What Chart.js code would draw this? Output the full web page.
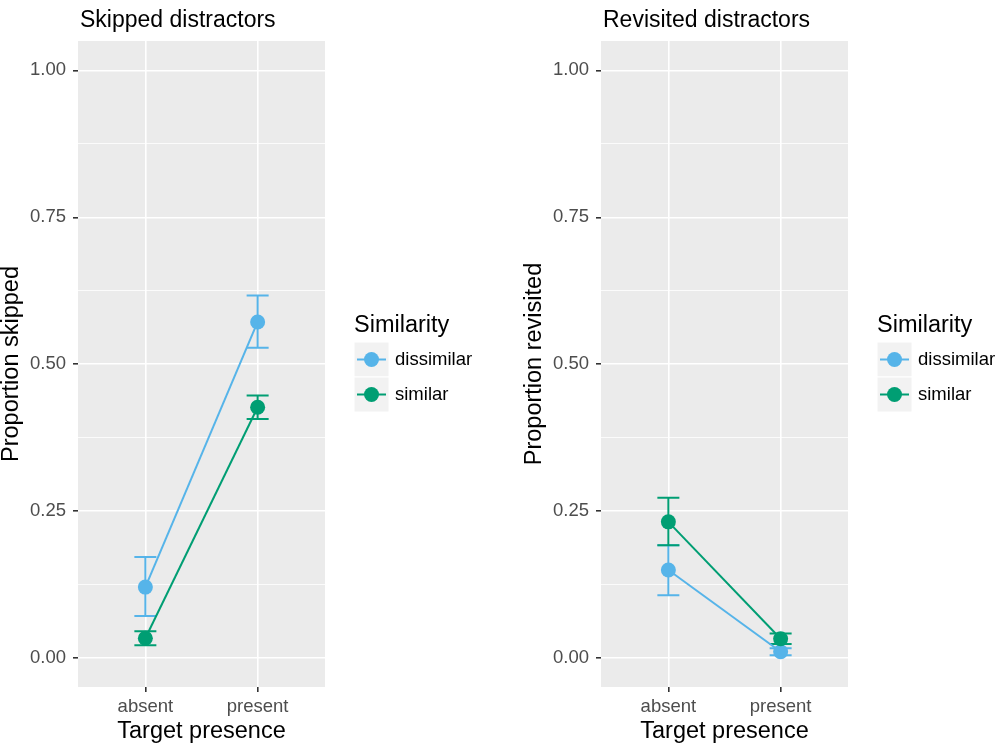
<!DOCTYPE html>
<html>
<head>
<meta charset="utf-8">
<script src="https://cdn.jsdelivr.net/npm/chart.js@4"></script>
<style>
  html, body { margin: 0; padding: 0; background: #fff; }
  #wrap { position: relative; width: 1000px; height: 751px; overflow: hidden; }
  .panel { position: absolute; top: 0; width: 523px; height: 751px; }
</style>
</head>
<body>
<div id="wrap">
  <div class="panel" style="left:0"><canvas id="skipped"></canvas></div>
  <div class="panel" style="left:523px"><canvas id="revisited"></canvas></div>
</div>
<script>
// data
var categories = ['absent', 'present'];
var groups = ['dissimilar', 'similar'];
var yTicks = [0, 0.25, 0.5, 0.75, 1];

var skippedDissimilar = [0.121, 0.572];
var skippedDissimilarLo = [0.072, 0.528];
var skippedDissimilarHi = [0.172, 0.617];
var skippedSimilar = [0.034, 0.427];
var skippedSimilarLo = [0.022, 0.407];
var skippedSimilarHi = [0.046, 0.447];

var revisitedDissimilar = [0.150, 0.011];
var revisitedDissimilarLo = [0.107, 0.005];
var revisitedDissimilarHi = [0.192, 0.017];
var revisitedSimilar = [0.232, 0.033];
var revisitedSimilarLo = [0.192, 0.024];
var revisitedSimilarHi = [0.273, 0.042];

var colors = ['#56B4E9', '#009E73'];
var FONT = '"Liberation Sans", Arial, sans-serif';

function points(vals) {
    return vals.map(function (v, i) { return { x: i + 1, y: v }; });
}

// grey panel background
var panelBg = {
    id: 'panelBg',
    beforeDraw: function (chart) {
        var a = chart.chartArea, ctx = chart.ctx;
        ctx.save();
        ctx.fillStyle = '#EBEBEB';
        ctx.fillRect(a.left, a.top, a.right - a.left, a.bottom - a.top);
        ctx.restore();
    }
};

// error bars from lo/hi arrays kept on each dataset
var errorBars = {
    id: 'errorBars',
    beforeDatasetsDraw: function (chart) {
        var ctx = chart.ctx, xs = chart.scales.x, ys = chart.scales.y;
        var sets = chart.data.datasets.slice().sort(function (a, b) { return b.order - a.order; });
        sets.forEach(function (ds) {
            ctx.save();
            ctx.strokeStyle = ds.borderColor;
            ctx.lineWidth = 2;
            ds.lo.forEach(function (lo, i) {
                var px = xs.getPixelForValue(i + 1);
                var y1 = ys.getPixelForValue(lo), y2 = ys.getPixelForValue(ds.hi[i]);
                ctx.beginPath();
                ctx.moveTo(px, y1); ctx.lineTo(px, y2);
                ctx.moveTo(px - 11, y1); ctx.lineTo(px + 11, y1);
                ctx.moveTo(px - 11, y2); ctx.lineTo(px + 11, y2);
                ctx.stroke();
            });
            ctx.restore();
        });
    }
};

// title + legend in ggplot style
var decorations = {
    id: 'decorations',
    afterDraw: function (chart, args, opts) {
        var ctx = chart.ctx, a = chart.chartArea;
        ctx.save();
        ctx.fillStyle = '#000';
        ctx.textBaseline = 'alphabetic';
        ctx.font = '23px ' + FONT;
        ctx.fillText(opts.title, a.left + 2, 27);

        var x0 = a.right + 29;
        ctx.font = '23.5px ' + FONT;
        ctx.fillText('Similarity', x0, 332);
        var top = 342, size = 35;
        chart.data.datasets.forEach(function (ds, i) {
            var y = top + i * size;
            ctx.fillStyle = '#F2F2F2';
            ctx.fillRect(x0, y, size, size);
            ctx.strokeStyle = '#fff';
            ctx.lineWidth = 1;
            ctx.strokeRect(x0, y, size, size);
            var cy = y + size / 2;
            ctx.strokeStyle = ds.borderColor;
            ctx.lineWidth = 2;
            ctx.beginPath();
            ctx.moveTo(x0 + 3, cy); ctx.lineTo(x0 + 32, cy);
            ctx.stroke();
            ctx.fillStyle = ds.borderColor;
            ctx.beginPath();
            ctx.arc(x0 + size / 2, cy, 7.5, 0, Math.PI * 2);
            ctx.fill();
            ctx.fillStyle = '#000';
            ctx.font = '18.5px ' + FONT;
            ctx.textBaseline = 'middle';
            ctx.fillText(ds.label, x0 + 41, cy);
            ctx.textBaseline = 'alphabetic';
        });
        ctx.restore();
    }
};

function isMajor(v) {
    return yTicks.some(function (t) { return Math.abs(t - v) < 1e-9; });
}

function renderPanel(id, title, yTitle, vals, los, his) {
    var ctx = document.getElementById(id).getContext('2d');
    return new Chart(ctx, {
        type: 'line',
        data: {
            datasets: groups.map(function (g, i) {
                return {
                    label: g,
                    data: points(vals[i]),
                    lo: los[i],
                    hi: his[i],
                    order: groups.length - i,
                    borderColor: colors[i],
                    backgroundColor: colors[i],
                    pointBackgroundColor: colors[i],
                    borderWidth: 2,
                    pointRadius: 7.5,
                    pointBorderWidth: 0,
                    pointHoverRadius: 7.5,
                    tension: 0
                };
            })
        },
        options: {
            responsive: true,
            maintainAspectRatio: false,
            animation: false,
            layout: { padding: { left: 0, top: 41, right: 198, bottom: 0 } },
            plugins: {
                legend: { display: false },
                tooltip: { enabled: false },
                decorations: { title: title }
            },
            scales: {
                x: {
                    type: 'linear',
                    min: 0.4,
                    max: 2.6,
                    afterBuildTicks: function (scale) {
                        scale.ticks = categories.map(function (c, i) { return { value: i + 1 }; });
                    },
                    afterFit: function (scale) { scale.height = 64; },
                    ticks: {
                        autoSkip: false,
                        maxRotation: 0,
                        padding: 4,
                        color: '#4D4D4D',
                        font: { family: FONT, size: 18.5 },
                        callback: function (v) { return categories[Math.round(v) - 1]; }
                    },
                    grid: { color: '#fff', lineWidth: 1.6, tickColor: '#333', tickLength: 5 },
                    border: { display: false },
                    title: {
                        display: true,
                        text: 'Target presence',
                        color: '#000',
                        font: { family: FONT, size: 23.5, lineHeight: 1 },
                        padding: { top: 0, bottom: 8 }
                    }
                },
                y: {
                    type: 'linear',
                    min: -0.049,
                    max: 1.05,
                    afterBuildTicks: function (scale) {
                        var t = [];
                        for (var k = 0; k < yTicks.length; k++) {
                            t.push({ value: yTicks[k] });
                            if (k < yTicks.length - 1) t.push({ value: (yTicks[k] + yTicks[k + 1]) / 2 });
                        }
                        scale.ticks = t;
                    },
                    afterFit: function (scale) { scale.width = 78; },
                    ticks: {
                        autoSkip: false,
                        padding: 7,
                        color: '#4D4D4D',
                        font: { family: FONT, size: 18.5 },
                        callback: function (v) { return isMajor(v) ? v.toFixed(2) : ''; }
                    },
                    grid: {
                        color: '#fff',
                        lineWidth: function (c) { return c.tick && isMajor(c.tick.value) ? 1.6 : 0.8; },
                        tickColor: function (c) { return c.tick && isMajor(c.tick.value) ? '#333' : 'rgba(0,0,0,0)'; },
                        tickLength: 5
                    },
                    border: { display: false },
                    title: {
                        display: true,
                        text: yTitle,
                        color: '#000',
                        font: { family: FONT, size: 23.5, lineHeight: 1 },
                        padding: { top: 0, bottom: 0 }
                    }
                }
            }
        },
        plugins: [panelBg, errorBars, decorations]
    });
}

renderPanel('skipped', 'Skipped distractors', 'Proportion skipped',
    [skippedDissimilar, skippedSimilar],
    [skippedDissimilarLo, skippedSimilarLo],
    [skippedDissimilarHi, skippedSimilarHi]);

renderPanel('revisited', 'Revisited distractors', 'Proportion revisited',
    [revisitedDissimilar, revisitedSimilar],
    [revisitedDissimilarLo, revisitedSimilarLo],
    [revisitedDissimilarHi, revisitedSimilarHi]);
</script>
</body>
</html>
